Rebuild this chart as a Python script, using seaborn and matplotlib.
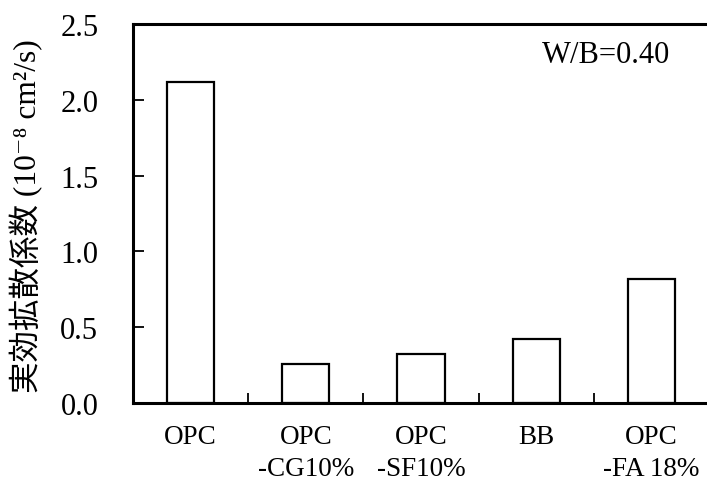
import matplotlib
matplotlib.use("Agg")
import matplotlib.pyplot as plt
import seaborn as sns
import pandas as pd
from matplotlib.ticker import FixedLocator

# Effective diffusion coefficient for each binder, W/B = 0.40
categories = ["OPC", "OPC\n-CG10%", "OPC\n-SF10%", "BB", "OPC\n-FA 18%"]
diffusion = [2.12, 0.26, 0.32, 0.42, 0.82]
y_ticks = [0.0, 0.5, 1.0, 1.5, 2.0, 2.5]

sns.set_style("ticks")
plt.rcParams["font.family"] = ["Liberation Serif", "Noto Sans CJK JP", "DejaVu Serif"]
for key in ["text.color", "axes.labelcolor", "xtick.color", "ytick.color", "axes.edgecolor"]:
    plt.rcParams[key] = "black"

df = pd.DataFrame({"binder": categories, "D": diffusion})

fig = plt.figure(figsize=(7.07, 4.81), dpi=100)
ax = fig.add_axes([133 / 707, 77 / 481, 576 / 707, 379 / 481])

sns.barplot(data=df, x="binder", y="D", ax=ax, color="white",
            edgecolor="black", linewidth=1.6, width=0.41, saturation=1)

ax.set_ylim(0, 2.5)
ax.set_xlim(-0.5, len(categories) - 0.5)
ax.set_yticks(y_ticks)
ax.set_yticklabels([f"{v:.1f}" for v in y_ticks])

for side in ["left", "bottom", "top"]:
    ax.spines[side].set_linewidth(2.2)
ax.spines["right"].set_visible(False)

ax.tick_params(axis="y", direction="in", length=8, width=1.3,
               labelsize=22, pad=25)
ax.tick_params(axis="x", which="major", length=0, labelsize=19.5, pad=15)
ax.xaxis.set_minor_locator(FixedLocator([i + 0.5 for i in range(len(categories) - 1)]))
ax.tick_params(axis="x", which="minor", direction="in", length=7, width=1.3)
for lbl in ax.get_xticklabels():
    lbl.set_linespacing(1.4)

ax.set_xlabel("")
ax.set_ylabel("実効拡散係数 (10⁻⁸ cm²/s)", fontsize=22.7)
ax.yaxis.set_label_coords(-0.156, 0.495)

ax.text(3.05, 2.296, "W/B=0.40", ha="left", va="center", fontsize=22)

fig.savefig("out.png", dpi=100)
